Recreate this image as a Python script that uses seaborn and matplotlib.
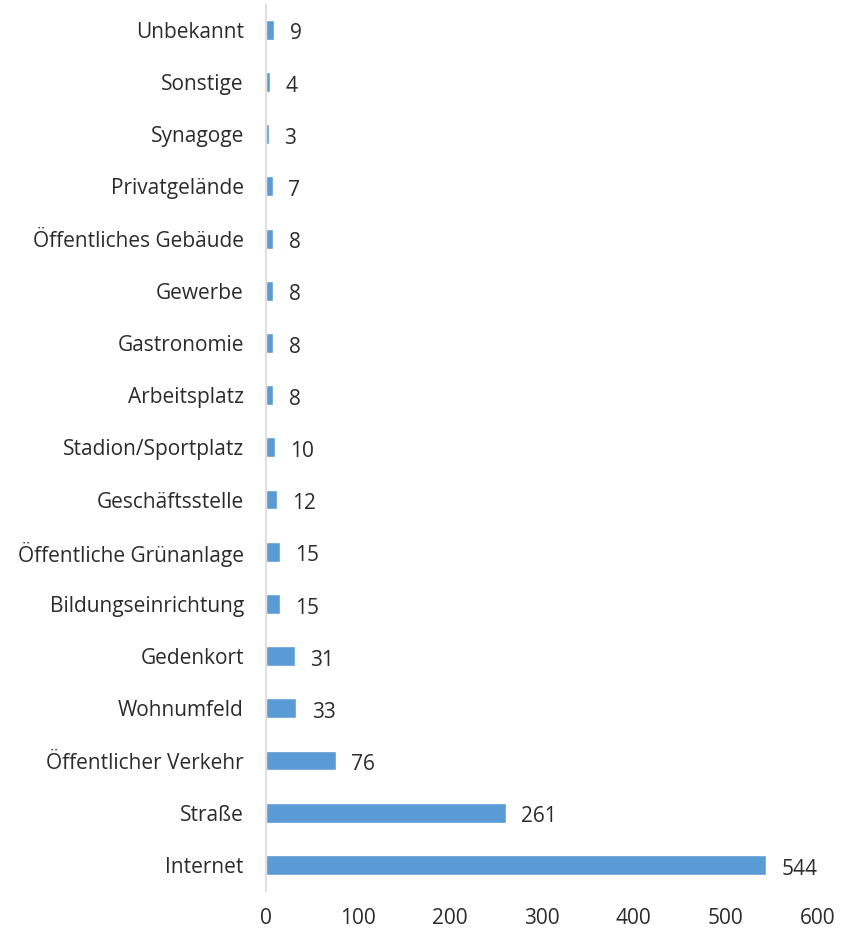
import matplotlib
matplotlib.use("Agg")
import matplotlib.pyplot as plt
import seaborn as sns
import pandas as pd

categories = ["Unbekannt", "Sonstige", "Synagoge", "Privatgelände", "Öffentliches Gebäude",
              "Gewerbe", "Gastronomie", "Arbeitsplatz", "Stadion/Sportplatz", "Geschäftsstelle",
              "Öffentliche Grünanlage", "Bildungseinrichtung", "Gedenkort", "Wohnumfeld",
              "Öffentlicher Verkehr", "Straße", "Internet"]
values = [9, 4, 3, 7, 8, 8, 8, 8, 10, 12, 15, 15, 31, 33, 76, 261, 544]
xticks = [0, 100, 200, 300, 400, 500, 600]

sns.set_theme(style="white")
plt.rcParams['font.family'] = ['Open Sans', 'DejaVu Sans']

df = pd.DataFrame({"Ort": categories, "Anzahl": values})

fig = plt.figure(figsize=(8.42, 9.34), dpi=100)
ax = fig.add_axes([0.316, 0.046, 0.655, 0.95])
sns.barplot(data=df, y="Ort", x="Anzahl", color="#5B9BD5", width=0.38, ax=ax,
            saturation=1, orient="h")
for c in ax.containers:
    anns = ax.bar_label(c, padding=11, fontsize=15, color="#2b2b2b")
    for a in anns:
        a.xyann = (11, -3)
ax.set_xlim(0, 600)
ax.set_xticks(xticks)
ax.set_xlabel("")
ax.set_ylabel("")
ax.tick_params(axis="both", length=0, labelsize=15, colors="#2b2b2b")
ax.tick_params(axis="y", pad=16)
ax.tick_params(axis="x", pad=12)
for s in ["top", "right", "bottom"]:
    ax.spines[s].set_visible(False)
ax.spines["left"].set_color("#D9D9D9")
ax.spines["left"].set_linewidth(1.2)
fig.savefig("out.png", dpi=100)
